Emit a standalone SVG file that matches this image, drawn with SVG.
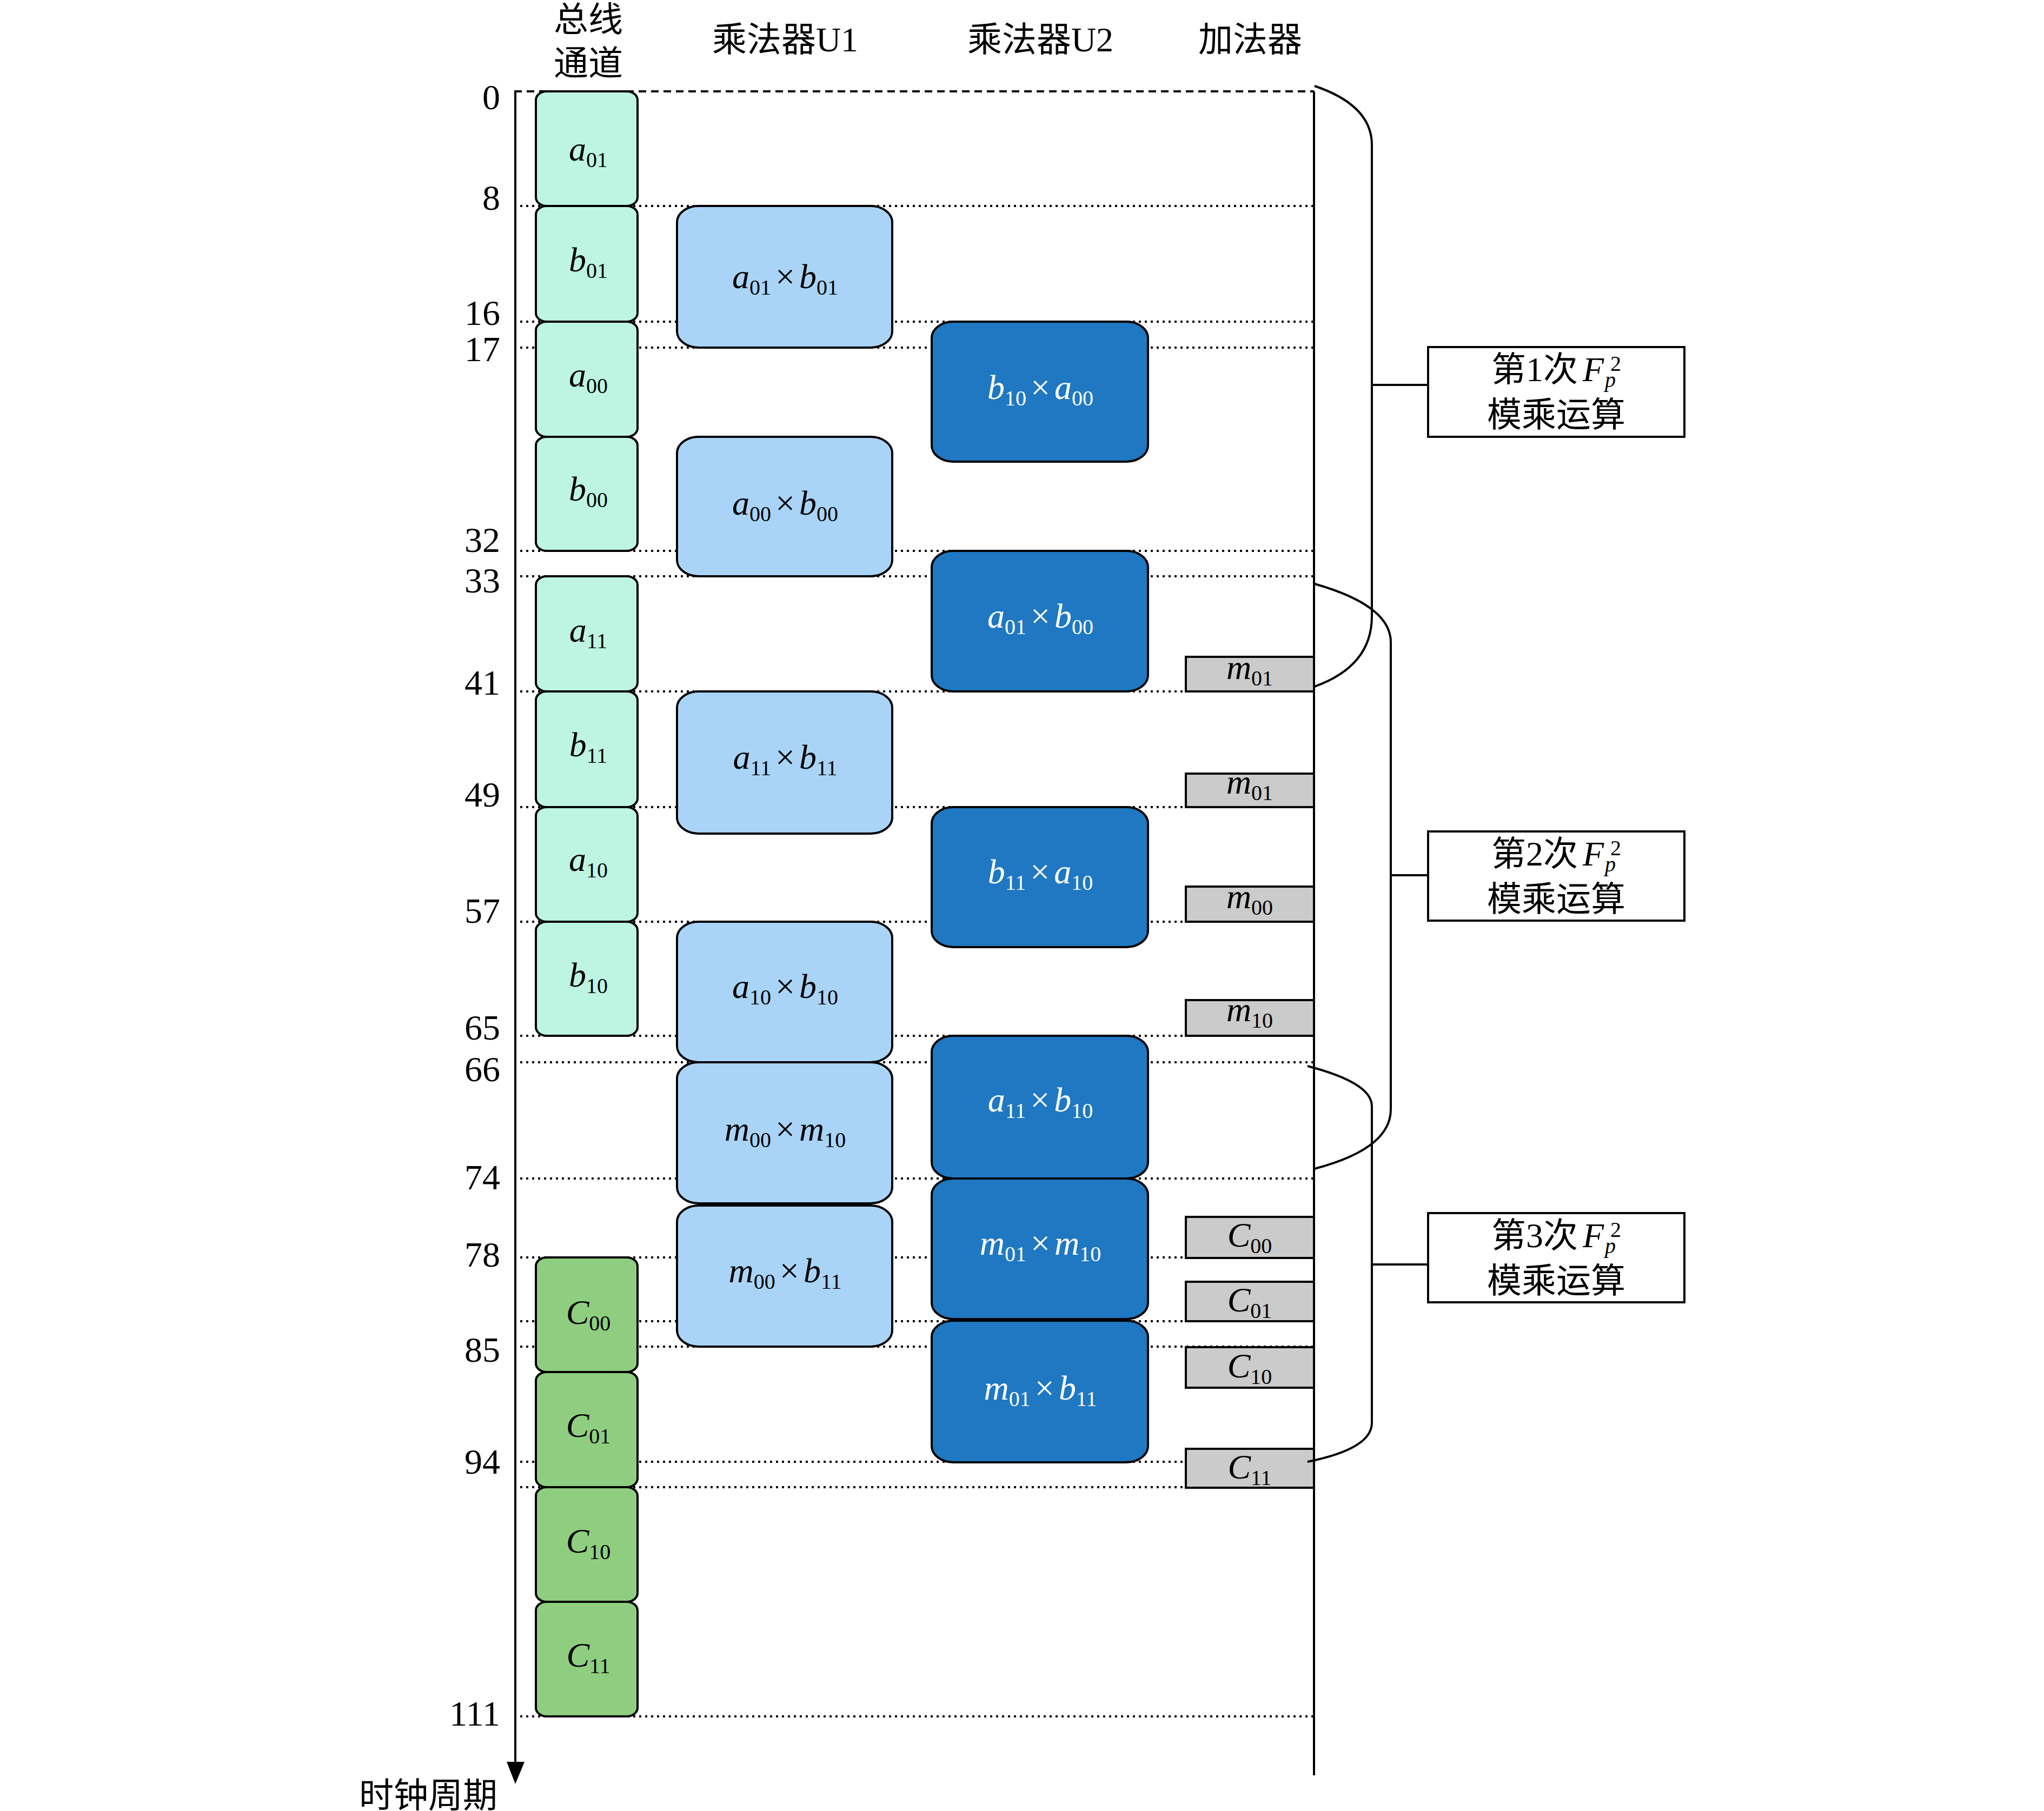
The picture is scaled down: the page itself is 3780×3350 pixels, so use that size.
<svg xmlns="http://www.w3.org/2000/svg" width="3780" height="3350" viewBox="0 0 3780 3350">
<style>
.bg{fill:#ffffff}
.grid{stroke:#000;stroke-width:4;stroke-dasharray:4 7;fill:none}
.dash{stroke:#000;stroke-width:4;stroke-dasharray:14 9;fill:none}
.axis{stroke:#000;stroke-width:4;fill:none}
.bus{fill:#bdf5e2;stroke:#000;stroke-width:4}
.res{fill:#8fce80;stroke:#000;stroke-width:4}
.u1{fill:#a9d4f7;stroke:#000;stroke-width:4}
.u2{fill:#1f78c1;stroke:#000;stroke-width:4}
.add{fill:#cbcbcb;stroke:#000;stroke-width:4}
.lbl{fill:#fff;stroke:#000;stroke-width:4}
.con{stroke:#000;stroke-width:4;fill:none}
.m{font-family:'Liberation Serif',serif;font-size:64px;text-anchor:middle;fill:#000}
.w{fill:#ffffff}
.i{font-style:italic}
.s{font-size:40px}
.num{font-family:'Liberation Serif',serif;font-size:66px;text-anchor:end;fill:#000}
.cj{font-family:'Liberation Serif','Noto Sans CJK SC',serif;font-size:64px;fill:#000}
.mid{text-anchor:middle}
</style>
<rect class="bg" x="0" y="0" width="3780" height="3350"/>

<g id="grid">
<line class="dash" x1="951" y1="169" x2="2430" y2="169"/>
<line class="grid" x1="951" y1="381" x2="2430" y2="381"/>
<line class="grid" x1="951" y1="595" x2="2430" y2="595"/>
<line class="grid" x1="951" y1="643" x2="2430" y2="643"/>
<line class="grid" x1="951" y1="1019" x2="2430" y2="1019"/>
<line class="grid" x1="951" y1="1066" x2="2430" y2="1066"/>
<line class="grid" x1="951" y1="1279" x2="2430" y2="1279"/>
<line class="grid" x1="951" y1="1493" x2="2430" y2="1493"/>
<line class="grid" x1="951" y1="1705" x2="2430" y2="1705"/>
<line class="grid" x1="951" y1="1916" x2="2430" y2="1916"/>
<line class="grid" x1="951" y1="1965" x2="2430" y2="1965"/>
<line class="grid" x1="951" y1="2180" x2="2430" y2="2180"/>
<line class="grid" x1="951" y1="2326" x2="2430" y2="2326"/>
<line class="grid" x1="951" y1="2444" x2="2430" y2="2444"/>
<line class="grid" x1="951" y1="2491" x2="2430" y2="2491"/>
<line class="grid" x1="951" y1="2704" x2="2430" y2="2704"/>
<line class="grid" x1="951" y1="2751" x2="2430" y2="2751"/>
<line class="grid" x1="951" y1="3175" x2="2430" y2="3175"/>
</g>

<g id="axis">
<line class="axis" x1="953" y1="169" x2="953" y2="3265"/>
<polygon points="937,3259 970,3259 953,3300" fill="#000"/>
<line class="axis" x1="2430" y1="169" x2="2430" y2="3284"/>
</g>

<g id="headers">
<text class="cj mid" x="1088" y="58" font-size="62">总线</text>
<text class="cj mid" x="1088" y="139" font-size="62">通道</text>
<text class="cj mid" x="1452" y="95">乘法器U1</text>
<text class="cj mid" x="1924" y="95">乘法器U2</text>
<text class="cj mid" x="2312" y="95">加法器</text>
<text class="cj" x="664" y="3343">时钟周期</text>
</g>

<g id="ticks">
<text class="num" x="925" y="202">0</text>
<text class="num" x="925" y="388">8</text>
<text class="num" x="925" y="601">16</text>
<text class="num" x="925" y="668">17</text>
<text class="num" x="925" y="1021">32</text>
<text class="num" x="925" y="1096">33</text>
<text class="num" x="925" y="1285">41</text>
<text class="num" x="925" y="1492">49</text>
<text class="num" x="925" y="1707">57</text>
<text class="num" x="925" y="1923">65</text>
<text class="num" x="925" y="2000">66</text>
<text class="num" x="925" y="2200">74</text>
<text class="num" x="925" y="2343">78</text>
<text class="num" x="925" y="2519">85</text>
<text class="num" x="925" y="2726">94</text>
<text class="num" x="925" y="3192">111</text>
</g>

<!-- bus channel -->
<g id="bus-a01"><rect class="bus" x="991" y="169" width="188" height="212" rx="20" ry="16"/><text class="m" x="1088" y="297"><tspan class="i">a</tspan><tspan class="s" dy="12">01</tspan></text></g>
<g id="bus-b01"><rect class="bus" x="991" y="381" width="188" height="214" rx="20" ry="16"/><text class="m" x="1088" y="502"><tspan class="i">b</tspan><tspan class="s" dy="12">01</tspan></text></g>
<g id="bus-a00"><rect class="bus" x="991" y="595" width="188" height="213" rx="20" ry="16"/><text class="m" x="1088" y="715"><tspan class="i">a</tspan><tspan class="s" dy="12">00</tspan></text></g>
<g id="bus-b00"><rect class="bus" x="991" y="808" width="188" height="211" rx="20" ry="16"/><text class="m" x="1088" y="926"><tspan class="i">b</tspan><tspan class="s" dy="12">00</tspan></text></g>
<g id="bus-a11"><rect class="bus" x="991" y="1066" width="188" height="213" rx="20" ry="16"/><text class="m" x="1088" y="1187"><tspan class="i">a</tspan><tspan class="s" dy="12">11</tspan></text></g>
<g id="bus-b11"><rect class="bus" x="991" y="1279" width="188" height="214" rx="20" ry="16"/><text class="m" x="1088" y="1399"><tspan class="i">b</tspan><tspan class="s" dy="12">11</tspan></text></g>
<g id="bus-a10"><rect class="bus" x="991" y="1493" width="188" height="212" rx="20" ry="16"/><text class="m" x="1088" y="1611"><tspan class="i">a</tspan><tspan class="s" dy="12">10</tspan></text></g>
<g id="bus-b10"><rect class="bus" x="991" y="1705" width="188" height="211" rx="20" ry="16"/><text class="m" x="1088" y="1825"><tspan class="i">b</tspan><tspan class="s" dy="12">10</tspan></text></g>
<g id="bus-C00"><rect class="res" x="991" y="2326" width="188" height="212" rx="20" ry="16"/><text class="m" x="1088" y="2449"><tspan class="i">C</tspan><tspan class="s" dy="12">00</tspan></text></g>
<g id="bus-C01"><rect class="res" x="991" y="2538" width="188" height="213" rx="20" ry="16"/><text class="m" x="1088" y="2658"><tspan class="i">C</tspan><tspan class="s" dy="12">01</tspan></text></g>
<g id="bus-C10"><rect class="res" x="991" y="2751" width="188" height="212" rx="20" ry="16"/><text class="m" x="1088" y="2872"><tspan class="i">C</tspan><tspan class="s" dy="12">10</tspan></text></g>
<g id="bus-C11"><rect class="res" x="991" y="2963" width="188" height="212" rx="20" ry="16"/><text class="m" x="1088" y="3083"><tspan class="i">C</tspan><tspan class="s" dy="12">11</tspan></text></g>

<!-- multiplier U1 -->
<g id="u1-1"><rect class="u1" x="1252" y="381" width="398" height="262" rx="40" ry="30"/><text class="m" x="1452" y="533"><tspan class="i">a</tspan><tspan class="s" dy="12">01</tspan><tspan dy="-12" dx="8">×</tspan><tspan class="i" dx="8">b</tspan><tspan class="s" dy="12">01</tspan></text></g>
<g id="u1-2"><rect class="u1" x="1252" y="808" width="398" height="258" rx="40" ry="30"/><text class="m" x="1452" y="952"><tspan class="i">a</tspan><tspan class="s" dy="12">00</tspan><tspan dy="-12" dx="8">×</tspan><tspan class="i" dx="8">b</tspan><tspan class="s" dy="12">00</tspan></text></g>
<g id="u1-3"><rect class="u1" x="1252" y="1279" width="398" height="263" rx="40" ry="30"/><text class="m" x="1452" y="1422"><tspan class="i">a</tspan><tspan class="s" dy="12">11</tspan><tspan dy="-12" dx="8">×</tspan><tspan class="i" dx="8">b</tspan><tspan class="s" dy="12">11</tspan></text></g>
<g id="u1-4"><rect class="u1" x="1252" y="1705" width="398" height="260" rx="40" ry="30"/><text class="m" x="1452" y="1846"><tspan class="i">a</tspan><tspan class="s" dy="12">10</tspan><tspan dy="-12" dx="8">×</tspan><tspan class="i" dx="8">b</tspan><tspan class="s" dy="12">10</tspan></text></g>
<g id="u1-5"><rect class="u1" x="1252" y="1965" width="398" height="261" rx="40" ry="30"/><text class="m" x="1452" y="2110"><tspan class="i">m</tspan><tspan class="s" dy="12">00</tspan><tspan dy="-12" dx="8">×</tspan><tspan class="i" dx="8">m</tspan><tspan class="s" dy="12">10</tspan></text></g>
<g id="u1-6"><rect class="u1" x="1252" y="2230" width="398" height="261" rx="40" ry="30"/><text class="m" x="1452" y="2372"><tspan class="i">m</tspan><tspan class="s" dy="12">00</tspan><tspan dy="-12" dx="8">×</tspan><tspan class="i" dx="8">b</tspan><tspan class="s" dy="12">11</tspan></text></g>

<!-- multiplier U2 -->
<g id="u2-1"><rect class="u2" x="1723" y="595" width="400" height="259" rx="40" ry="30"/><text class="m w" x="1924" y="738"><tspan class="i">b</tspan><tspan class="s" dy="12">10</tspan><tspan dy="-12" dx="8">×</tspan><tspan class="i" dx="8">a</tspan><tspan class="s" dy="12">00</tspan></text></g>
<g id="u2-2"><rect class="u2" x="1723" y="1019" width="400" height="260" rx="40" ry="30"/><text class="m w" x="1924" y="1161"><tspan class="i">a</tspan><tspan class="s" dy="12">01</tspan><tspan dy="-12" dx="8">×</tspan><tspan class="i" dx="8">b</tspan><tspan class="s" dy="12">00</tspan></text></g>
<g id="u2-3"><rect class="u2" x="1723" y="1493" width="400" height="259" rx="40" ry="30"/><text class="m w" x="1924" y="1634"><tspan class="i">b</tspan><tspan class="s" dy="12">11</tspan><tspan dy="-12" dx="8">×</tspan><tspan class="i" dx="8">a</tspan><tspan class="s" dy="12">10</tspan></text></g>
<g id="u2-4"><rect class="u2" x="1723" y="1916" width="400" height="264" rx="40" ry="30"/><text class="m w" x="1924" y="2056"><tspan class="i">a</tspan><tspan class="s" dy="12">11</tspan><tspan dy="-12" dx="8">×</tspan><tspan class="i" dx="8">b</tspan><tspan class="s" dy="12">10</tspan></text></g>
<g id="u2-5"><rect class="u2" x="1723" y="2180" width="400" height="260" rx="40" ry="30"/><text class="m w" x="1924" y="2321"><tspan class="i">m</tspan><tspan class="s" dy="12">01</tspan><tspan dy="-12" dx="8">×</tspan><tspan class="i" dx="8">m</tspan><tspan class="s" dy="12">10</tspan></text></g>
<g id="u2-6"><rect class="u2" x="1723" y="2443" width="400" height="262" rx="40" ry="30"/><text class="m w" x="1924" y="2589"><tspan class="i">m</tspan><tspan class="s" dy="12">01</tspan><tspan dy="-12" dx="8">×</tspan><tspan class="i" dx="8">b</tspan><tspan class="s" dy="12">11</tspan></text></g>

<!-- adder -->
<g id="add-1"><rect class="add" x="2193" y="1215" width="237" height="64"/><text class="m" x="2311" y="1256"><tspan class="i">m</tspan><tspan class="s" dy="12">01</tspan></text></g>
<g id="add-2"><rect class="add" x="2193" y="1431" width="237" height="62"/><text class="m" x="2311" y="1468"><tspan class="i">m</tspan><tspan class="s" dy="12">01</tspan></text></g>
<g id="add-3"><rect class="add" x="2193" y="1640" width="237" height="65"/><text class="m" x="2311" y="1680"><tspan class="i">m</tspan><tspan class="s" dy="12">00</tspan></text></g>
<g id="add-4"><rect class="add" x="2193" y="1850" width="237" height="66"/><text class="m" x="2311" y="1889"><tspan class="i">m</tspan><tspan class="s" dy="12">10</tspan></text></g>
<g id="add-5"><rect class="add" x="2193" y="2251" width="237" height="76"/><text class="m" x="2311" y="2306"><tspan class="i">C</tspan><tspan class="s" dy="12">00</tspan></text></g>
<g id="add-6"><rect class="add" x="2193" y="2371" width="237" height="73"/><text class="m" x="2311" y="2426"><tspan class="i">C</tspan><tspan class="s" dy="12">01</tspan></text></g>
<g id="add-7"><rect class="add" x="2193" y="2492" width="237" height="75"/><text class="m" x="2311" y="2548"><tspan class="i">C</tspan><tspan class="s" dy="12">10</tspan></text></g>
<g id="add-8"><rect class="add" x="2193" y="2680" width="237" height="72"/><text class="m" x="2311" y="2735"><tspan class="i">C</tspan><tspan class="s" dy="12">11</tspan></text></g>

<!-- brace connectors -->
<g id="connectors">
<path class="con" d="M 2431 159 Q 2537 195 2537 268 L 2537 1140 Q 2537 1232 2431 1270"/>
<path class="con" d="M 2537 712 L 2641 712"/>
<path class="con" d="M 2431 1080 Q 2572 1120 2572 1188 L 2572 2052 Q 2572 2125 2431 2162"/>
<path class="con" d="M 2572 1619 L 2641 1619"/>
<path class="con" d="M 2418 1972 Q 2537 2003 2537 2046 L 2537 2632 Q 2537 2680 2418 2704"/>
<path class="con" d="M 2537 2339 L 2641 2339"/>
</g>

<!-- labels -->
<g id="op-1"><rect class="lbl" x="2641" y="642" width="474" height="166"/>
<text class="cj" x="2758" y="705">第<tspan>1</tspan>次<tspan class="i" x="2927">F</tspan><tspan font-size="40" x="2978" y="686">2</tspan><tspan class="i" font-size="40" x="2968" y="716">p</tspan></text>
<text class="cj mid" x="2878" y="789" font-size="66">模乘运算</text></g>
<g id="op-2"><rect class="lbl" x="2641" y="1538" width="474" height="165"/>
<text class="cj" x="2758" y="1601">第<tspan>2</tspan>次<tspan class="i" x="2927">F</tspan><tspan font-size="40" x="2978" y="1582">2</tspan><tspan class="i" font-size="40" x="2968" y="1612">p</tspan></text>
<text class="cj mid" x="2878" y="1685" font-size="66">模乘运算</text></g>
<g id="op-3"><rect class="lbl" x="2641" y="2244" width="474" height="165"/>
<text class="cj" x="2758" y="2307">第<tspan>3</tspan>次<tspan class="i" x="2927">F</tspan><tspan font-size="40" x="2978" y="2288">2</tspan><tspan class="i" font-size="40" x="2968" y="2318">p</tspan></text>
<text class="cj mid" x="2878" y="2391" font-size="66">模乘运算</text></g>
</svg>
